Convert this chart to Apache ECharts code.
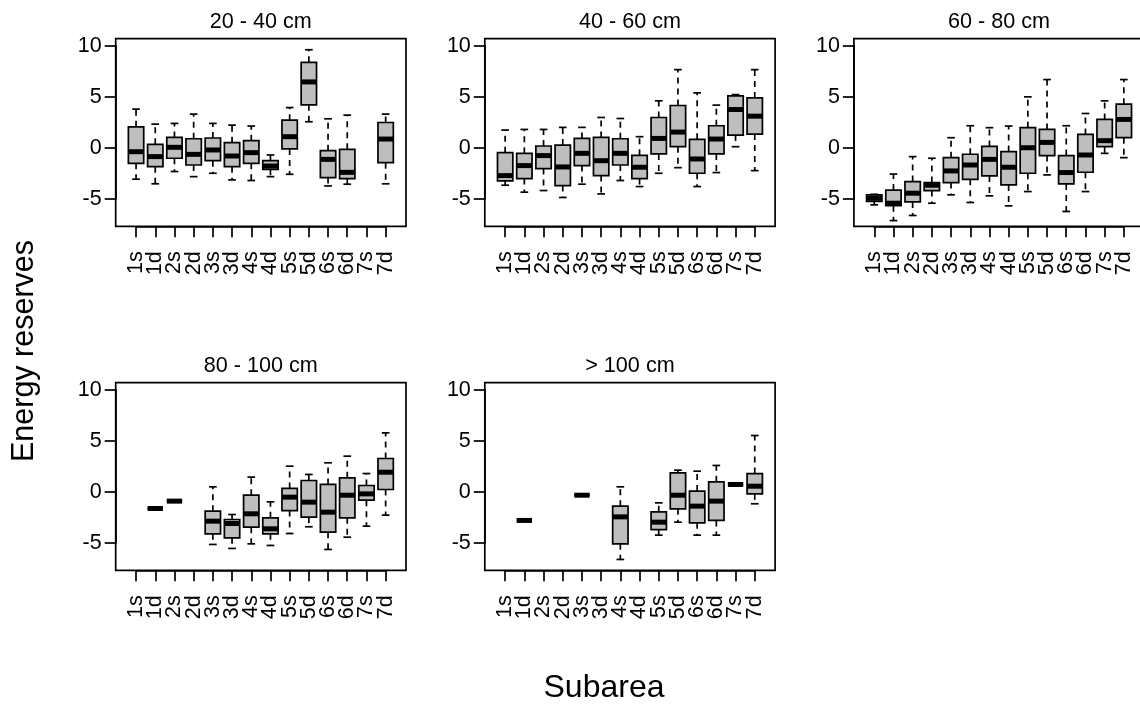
<!DOCTYPE html>
<html>
<head>
<meta charset="utf-8">
<script src="https://cdn.jsdelivr.net/npm/echarts@6/dist/echarts.min.js"></script>
<style>
html,body{margin:0;padding:0;background:#fff;}
#chart{width:1140px;height:707px;}
</style>
</head>
<body>
<div id="chart"></div>
<script>
// ---- data ----
const categories = ['1s','1d','2s','2d','3s','3d','4s','4d','5s','5d','6s','6d','7s','7d'];
const panelTitles = ['20 - 40 cm','40 - 60 cm','60 - 80 cm','80 - 100 cm','> 100 cm'];
const yTicks = [-5, 0, 5, 10];
const yAxisTitle = 'Energy reserves';
const xAxisTitle = 'Subarea';
// rows: [subarea, lower whisker, Q1, median, Q3, upper whisker]
const depth20_40 = [
  ['1s',-3.07,-1.52,-0.38,2.06,3.79],
  ['1d',-3.52,-1.84,-0.86,0.34,2.32],
  ['2s',-2.32,-1.02,0.05,1.02,2.39],
  ['2d',-2.82,-1.68,-0.64,0.89,3.30],
  ['3s',-2.49,-1.26,-0.21,0.96,2.39],
  ['3d',-3.14,-1.84,-0.80,0.50,2.22],
  ['4s',-3.20,-1.52,-0.47,0.70,2.13],
  ['4d',-2.82,-2.10,-1.78,-1.26,-0.70],
  ['5s',-2.59,-0.11,1.09,2.71,3.94],
  ['5d',2.55,4.21,6.45,8.37,9.60],
  ['6s',-3.73,-2.91,-1.13,-0.28,2.84],
  ['6d',-3.56,-3.01,-2.40,-0.15,3.20],
  ['7d',-3.52,-1.45,0.86,2.48,3.30]
];
const depth40_60 = [
  ['1s',-3.66,-3.23,-2.72,-0.47,1.74],
  ['1d',-4.34,-3.01,-1.74,-0.54,1.80],
  ['2s',-4.18,-2.03,-0.76,0.18,1.80],
  ['2d',-4.86,-3.69,-1.87,0.27,2.00],
  ['3s',-3.56,-1.74,-0.54,0.92,2.00],
  ['3d',-4.51,-2.72,-1.26,1.02,2.97],
  ['4s',-3.20,-1.68,-0.54,0.89,2.87],
  ['4d',-3.79,-3.01,-1.90,-0.73,1.09],
  ['5s',-2.49,-0.60,0.92,2.97,4.60],
  ['5d',-1.94,0.11,1.54,4.14,7.65],
  ['6s',-3.79,-2.49,-1.09,0.83,5.38],
  ['6d',-2.42,-0.60,0.86,2.16,4.18],
  ['7s',0.11,1.25,3.75,5.09,5.21],
  ['7d',-2.23,1.35,3.10,4.88,7.65]
];
const depth60_80 = [
  ['1s',-5.58,-5.25,-4.93,-4.60,-4.55],
  ['1d',-7.12,-5.67,-5.42,-4.13,-2.57],
  ['2s',-6.62,-5.29,-4.44,-3.30,-0.86],
  ['2d',-5.42,-4.18,-3.66,-3.40,-1.02],
  ['3s',-4.60,-3.40,-2.26,-0.96,0.99],
  ['3d',-5.35,-3.08,-1.68,-0.63,2.16],
  ['4s',-4.70,-2.75,-1.13,0.14,1.97],
  ['4d',-5.68,-3.63,-1.90,-0.37,2.13],
  ['5s',-4.28,-2.49,0.01,1.97,4.99],
  ['5d',-2.65,-0.76,0.53,1.80,6.68],
  ['6s',-6.23,-3.53,-2.42,-0.76,2.16],
  ['6d',-4.28,-2.39,-0.70,1.31,3.36],
  ['7s',-0.54,0.11,0.70,2.78,4.60],
  ['7d',-0.96,0.99,2.78,4.27,6.68]
];
const depth80_100 = [
  ['1d',-1.63,-1.63,-1.63,-1.63,-1.63],
  ['2s',-0.91,-0.91,-0.91,-0.91,-0.91],
  ['3s',-5.15,-4.11,-2.87,-1.89,0.49],
  ['3d',-5.54,-4.50,-3.10,-2.71,-2.22],
  ['4s',-5.09,-3.46,-2.15,-0.33,1.44],
  ['4d',-5.25,-4.11,-3.62,-2.54,-0.98],
  ['5s',-4.08,-1.83,-0.52,0.33,2.51],
  ['5d',-3.42,-2.48,-1.01,1.11,1.70],
  ['6s',-5.64,-3.95,-1.99,0.72,2.84],
  ['6d',-4.44,-2.54,-0.33,1.37,3.49],
  ['7s',-3.36,-0.82,-0.20,0.62,1.79],
  ['7d',-2.28,0.23,1.92,3.26,5.77]
];
const depth100plus = [
  ['1d',-2.80,-2.80,-2.80,-2.80,-2.80],
  ['3s',-0.33,-0.33,-0.33,-0.33,-0.33],
  ['4s',-6.62,-5.09,-2.45,-1.40,0.49],
  ['5s',-4.24,-3.69,-2.97,-1.96,-1.08],
  ['5d',-2.97,-1.66,-0.33,1.86,2.12],
  ['6s',-4.24,-3.03,-1.40,0.07,2.02],
  ['6d',-4.24,-2.80,-0.91,0.98,2.58],
  ['7s',0.72,0.72,0.72,0.72,0.72],
  ['7d',-1.17,-0.20,0.55,1.79,5.51]
];
const panelData = [depth20_40, depth40_60, depth60_80, depth80_100, depth100plus];

// ---- layout / style ----
const FONT = '"Liberation Sans", Arial, sans-serif';
const colLeft = [115.7, 484.8, 853.9];
const rowTop = [38.7, 382.7];
const PW = 290.3, PH = 187.6;
const X_MIN = -0.06, X_MAX = 15.06;
const Y_MIN = -7.68, Y_MAX = 10.68;
const LW = 1.7;
const TICK_FONT = 21.5;

function renderBox(params, api) {
  const x = api.value(0);
  const lo = api.value(1), q1 = api.value(2), md = api.value(3), q3 = api.value(4), hi = api.value(5);
  const c = function (v) { return api.coord([x, v]); };
  const pLo = c(lo), pQ1 = c(q1), pMd = c(md), pQ3 = c(q3), pHi = c(hi);
  const cx = pMd[0];
  const hw = api.size([0.4, 0])[0];
  const cw = api.size([0.2, 0])[0];
  const solid = {stroke: '#000', lineWidth: LW, fill: null};
  const dashed = {stroke: '#000', lineWidth: LW, lineDash: [6, 5], fill: null};
  const children = [
    {type: 'line', shape: {x1: cx, y1: pQ3[1], x2: cx, y2: pHi[1]}, style: dashed},
    {type: 'line', shape: {x1: cx, y1: pQ1[1], x2: cx, y2: pLo[1]}, style: dashed},
    {type: 'line', shape: {x1: cx - cw, y1: pHi[1], x2: cx + cw, y2: pHi[1]}, style: solid},
    {type: 'line', shape: {x1: cx - cw, y1: pLo[1], x2: cx + cw, y2: pLo[1]}, style: solid},
    {type: 'rect', shape: {x: cx - hw, y: pQ3[1], width: 2 * hw, height: pQ1[1] - pQ3[1]},
      style: {fill: '#BEBEBE', stroke: '#000', lineWidth: LW}},
    {type: 'line', shape: {x1: cx - hw, y1: pMd[1], x2: cx + hw, y2: pMd[1]},
      style: {stroke: '#000', lineWidth: 5, lineCap: 'butt'}}
  ];
  return {type: 'group', children: children};
}

const grids = [], xAxes = [], yAxes = [], series = [], graphics = [];
panelData.forEach(function (rows, p) {
  const col = p % 3, row = Math.floor(p / 3);
  const L = colLeft[col], T = rowTop[row];
  const gi = grids.length;
  const ky = PH / (Y_MAX - Y_MIN);
  const kx = PW / (X_MAX - X_MIN);
  const yTop = yTicks[yTicks.length - 1], yBot = yTicks[0];
  // main plotting frame
  grids.push({left: L, top: T, width: PW, height: PH, show: true, borderColor: '#000', borderWidth: LW,
    backgroundColor: 'rgba(0,0,0,0)', containLabel: false, outerBoundsMode: 'none'});
  xAxes.push({gridIndex: gi, type: 'value', min: X_MIN, max: X_MAX, show: false});
  yAxes.push({gridIndex: gi, type: 'value', min: Y_MIN, max: Y_MAX, show: false});
  // y tick axis
  grids.push({left: L, top: T + (Y_MAX - yTop) * ky, width: PW, height: (yTop - yBot) * ky, show: false,
    containLabel: false, outerBoundsMode: 'none'});
  xAxes.push({gridIndex: gi + 1, type: 'value', min: 0, max: 1, show: false});
  yAxes.push({gridIndex: gi + 1, type: 'value', min: yBot, max: yTop, interval: 5, position: 'left',
    axisLine: {show: true, lineStyle: {color: '#000', width: LW}},
    axisTick: {show: true, length: 11, lineStyle: {color: '#000', width: LW}},
    axisLabel: {show: true, color: '#000', fontSize: TICK_FONT, fontFamily: FONT, margin: 14, showMinLabel: true, showMaxLabel: true},
    splitLine: {show: false}});
  // x tick axis (category, ticks on category points)
  grids.push({left: L + (1 - X_MIN) * kx, top: T, width: (categories.length - 1) * kx, height: PH, show: false,
    containLabel: false, outerBoundsMode: 'none'});
  xAxes.push({gridIndex: gi + 2, type: 'category', data: categories, boundaryGap: false, position: 'bottom',
    axisLine: {show: true, onZero: false, lineStyle: {color: '#000', width: LW}},
    axisTick: {show: true, length: 11, interval: 0, lineStyle: {color: '#000', width: LW}},
    axisLabel: {show: true, interval: 0, rotate: 90, color: '#000', fontSize: TICK_FONT, fontFamily: FONT, margin: 25,
      hideOverlap: false},
    splitLine: {show: false}});
  yAxes.push({gridIndex: gi + 2, type: 'value', min: 0, max: 1, show: false});
  series.push({
    type: 'custom', xAxisIndex: gi, yAxisIndex: gi, clip: false, silent: true, animation: false,
    encode: {x: 0, y: [1, 2, 3, 4, 5]},
    data: rows.map(function (r) { return [categories.indexOf(r[0]) + 1, r[1], r[2], r[3], r[4], r[5]]; }),
    renderItem: renderBox
  });
  graphics.push({type: 'text', x: L + PW / 2, y: T - 16.3, silent: true,
    style: {text: panelTitles[p], align: 'center', verticalAlign: 'middle', fontSize: 21.6, fontFamily: FONT, fill: '#000'}});
});
graphics.push({type: 'text', x: 25, y: 351, rotation: Math.PI / 2, silent: true,
  style: {text: yAxisTitle, align: 'center', verticalAlign: 'middle', fontSize: 30.5, fontFamily: FONT, fill: '#000'}});
graphics.push({type: 'text', x: 604, y: 688, silent: true,
  style: {text: xAxisTitle, align: 'center', verticalAlign: 'middle', fontSize: 32, fontFamily: FONT, fill: '#000'}});

const chart = echarts.init(document.getElementById('chart'), null, {renderer: 'canvas', width: 1140, height: 707});
chart.setOption({
  backgroundColor: '#fff',
  animation: false,
  grid: grids,
  xAxis: xAxes,
  yAxis: yAxes,
  series: series,
  graphic: graphics
});
</script>
</body>
</html>
